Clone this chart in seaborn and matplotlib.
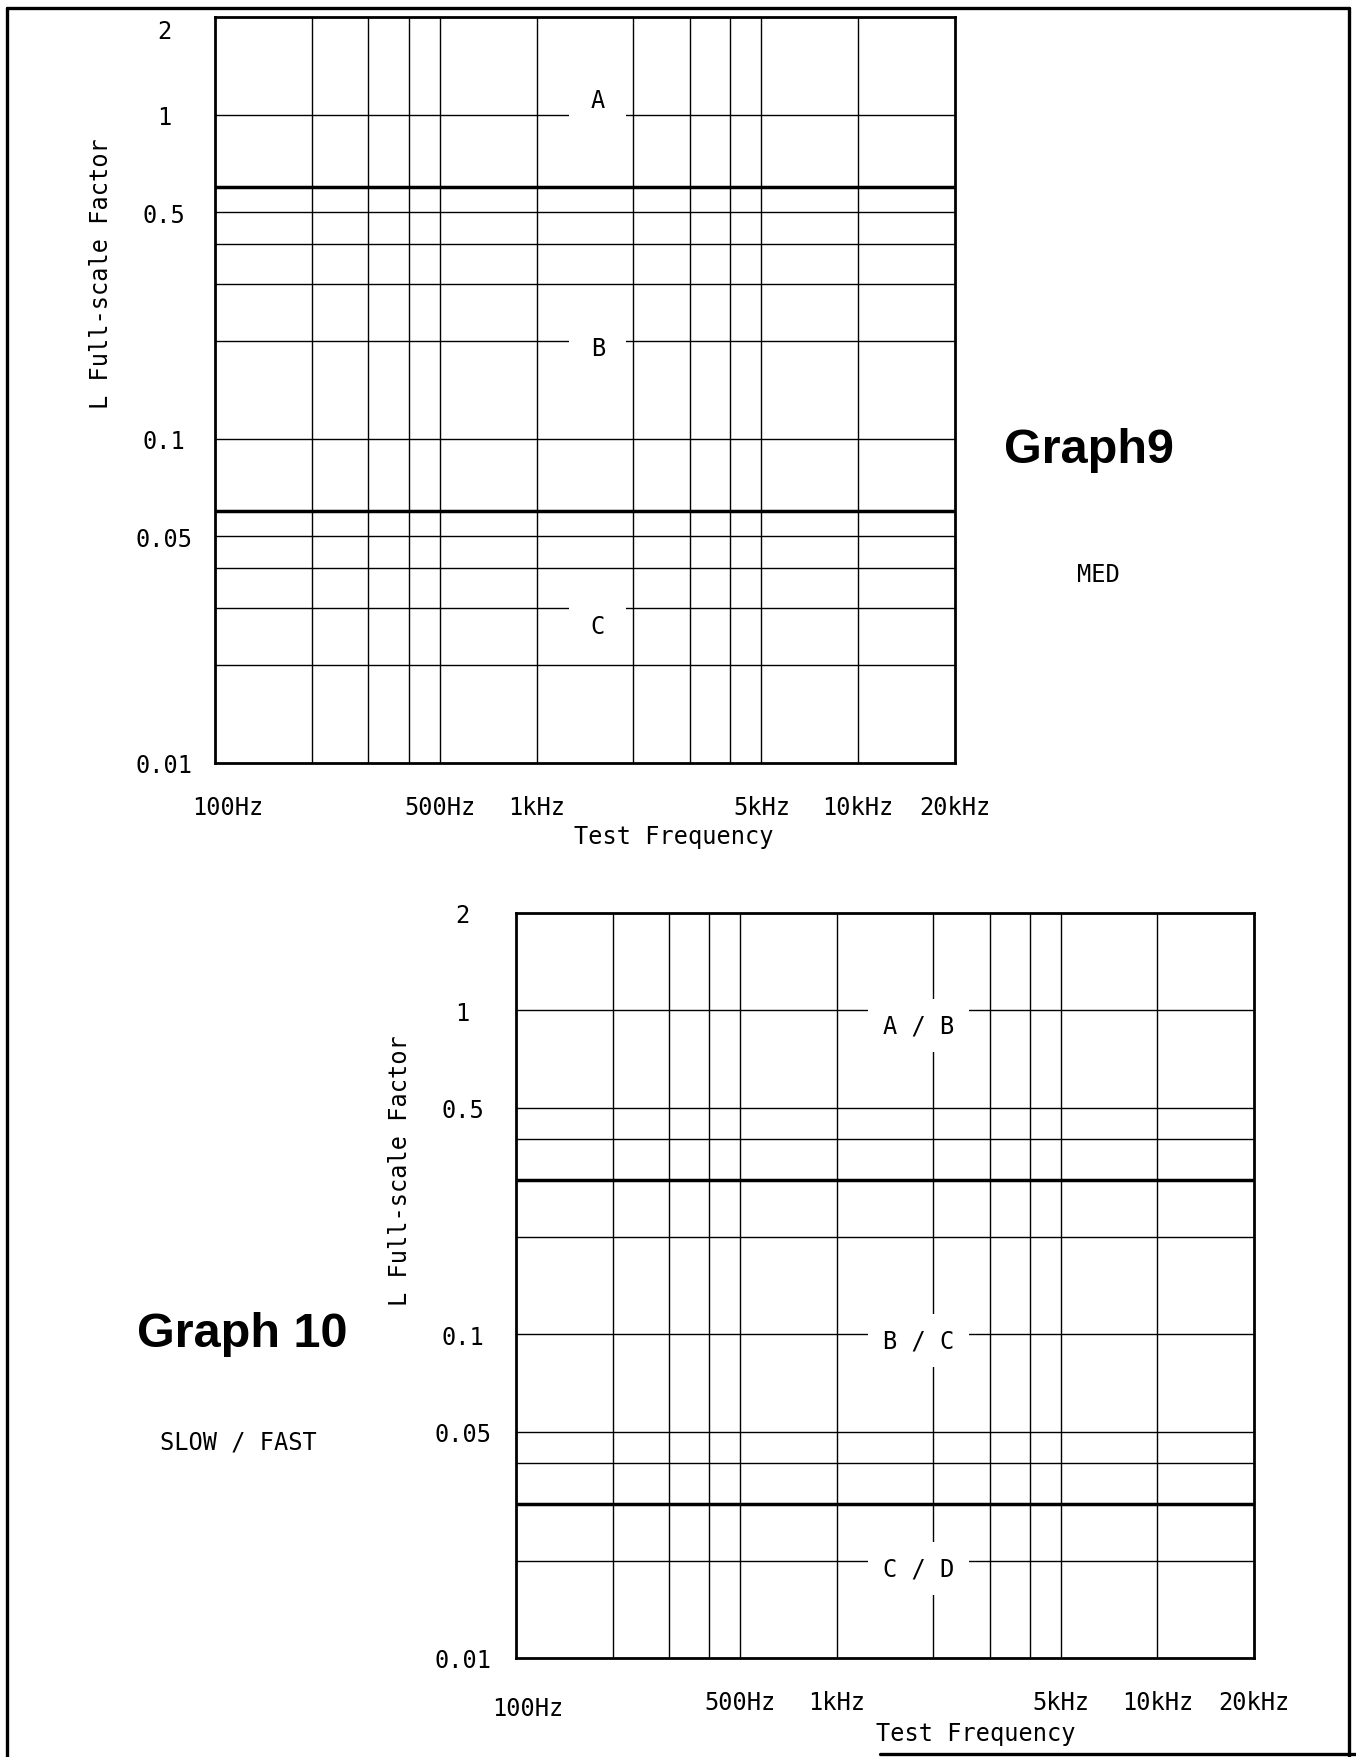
import matplotlib
matplotlib.use("Agg")
import matplotlib.pyplot as plt
import pandas as pd
import seaborn as sns
from matplotlib.lines import Line2D
from matplotlib.ticker import NullLocator
from matplotlib.transforms import ScaledTranslation

# ---- shared axes ----
freq_min, freq_max = 100, 20000
freq_ticks = [100, 500, 1000, 5000, 10000, 20000]
freq_tick_labels = ["100Hz", "500Hz", "1kHz", "5kHz", "10kHz", "20kHz"]
freq_grid = [200, 300, 400, 500, 1000, 2000, 3000, 4000, 5000, 10000]

factor_min, factor_max = 0.01, 2
factor_ticks = [2, 1, 0.5, 0.1, 0.05, 0.01]
factor_tick_labels = ["2", "1", "0.5", "0.1", "0.05", "0.01"]

# ---- Graph 9 (MED) ----
g9_levels = [1, 0.5, 0.4, 0.3, 0.2, 0.1, 0.05, 0.04, 0.03, 0.02]
g9_bounds = [0.6, 0.06]
g9_ranges = ["A", "B", "C"]
g9_range_levels = [1, 0.2, 0.03]

# ---- Graph 10 (SLOW / FAST) ----
g10_levels = [1, 0.5, 0.4, 0.2, 0.1, 0.05, 0.04, 0.02]
g10_bounds = [0.3, 0.03]
g10_ranges = ["A / B", "B / C", "C / D"]
g10_range_levels = [1, 0.1, 0.02]

sns.set_theme(style="white")
plt.rcParams["font.family"] = ["DejaVu Sans Mono", "DejaVu Sans"]
plt.rcParams["text.color"] = "black"
plt.rcParams["axes.labelcolor"] = "black"
plt.rcParams["xtick.color"] = "black"
plt.rcParams["ytick.color"] = "black"

W, H, DPI = 1356, 1758, 100
MONO = 17
THIN, THICK, FRAME = 1.0, 2.5, 2.0

fig = plt.figure(figsize=(W / DPI, H / DPI), dpi=DPI)
fig.patch.set_facecolor("white")


def px_rect(left, top, right, bottom):
    return [left / W, 1 - bottom / H, (right - left) / W, (bottom - top) / H]


def level_frame(levels):
    rows = []
    for lv in levels:
        for f in (freq_min, freq_max):
            rows.append({"freq": f, "factor": lv, "level": lv})
    return pd.DataFrame(rows)


def shift(label, dx_px, dy_px):
    label.set_transform(label.get_transform()
                        + ScaledTranslation(dx_px / DPI, dy_px / DPI, fig.dpi_scale_trans))


def draw_chart(rect, levels, bounds, ranges, range_levels, label_freq,
               label_dy, box_pad, ytick_pad, ylabel_xy, xlabel_xy,
               first_xtick_shift, top_ytick_shift):
    ax = fig.add_axes(px_rect(*rect))
    ax.set_xscale("log")
    ax.set_yscale("log")
    ax.set_facecolor("white")

    for f in freq_grid:
        ax.axvline(f, color="black", lw=THIN, zorder=1)
    sns.lineplot(data=level_frame(levels), x="freq", y="factor", units="level",
                 estimator=None, color="black", lw=THIN, ax=ax, zorder=1)
    sns.lineplot(data=level_frame(bounds), x="freq", y="factor", units="level",
                 estimator=None, color="black", lw=THICK, ax=ax, zorder=2)

    ax.set_xlim(freq_min, freq_max)
    ax.set_ylim(factor_min, factor_max)

    ax.set_xticks(freq_ticks, freq_tick_labels)
    ax.set_yticks(factor_ticks, factor_tick_labels)
    ax.xaxis.set_minor_locator(NullLocator())
    ax.yaxis.set_minor_locator(NullLocator())
    ax.tick_params(length=0, labelsize=MONO)
    ax.tick_params(axis="y", pad=ytick_pad)
    ax.tick_params(axis="x", pad=31.5)
    for lbl in ax.get_yticklabels():
        lbl.set_ha("center")
    for lbl in ax.get_xticklabels():
        lbl.set_va("center")
    shift(ax.get_xticklabels()[0], *first_xtick_shift)
    shift(ax.get_yticklabels()[0], *top_ytick_shift)

    ax.set_xlabel("Test Frequency", fontsize=MONO, va="center")
    ax.set_ylabel("L Full-scale Factor", fontsize=MONO, va="center")
    ax.xaxis.set_label_coords(*xlabel_xy)
    ax.yaxis.set_label_coords(*ylabel_xy)

    for spine in ax.spines.values():
        spine.set_visible(True)
        spine.set_color("black")
        spine.set_linewidth(FRAME)

    for txt, lv, dy in zip(ranges, range_levels, label_dy):
        ax.annotate(txt, xy=(label_freq, lv), xytext=(0, dy),
                    textcoords="offset points", ha="center", va="center",
                    fontsize=MONO, zorder=4,
                    bbox=dict(boxstyle=f"square,pad={box_pad}", fc="white", ec="none"))
    return ax


# Graph 9
draw_chart(rect=(215, 18, 955, 764),
           levels=g9_levels, bounds=g9_bounds,
           ranges=g9_ranges, range_levels=g9_range_levels,
           label_freq=1550, label_dy=[10.8, -5.0, -13.0], box_pad=0.9,
           ytick_pad=36.7, ylabel_xy=(-0.154, 0.658), xlabel_xy=(0.620, -0.098),
           first_xtick_shift=(13, 0), top_ytick_shift=(0, -12))

# Graph 10
draw_chart(rect=(516, 914, 1254, 1659),
           levels=g10_levels, bounds=g10_bounds,
           ranges=g10_ranges, range_levels=g10_range_levels,
           label_freq=1800, label_dy=[-10.8, -4.3, -5.8], box_pad=0.62,
           ytick_pad=38.5, ylabel_xy=(-0.157, 0.656), xlabel_xy=(0.623, -0.101),
           first_xtick_shift=(12, -6), top_ytick_shift=(0, 0))

# Titles and mode notes
fig.text(1089 / W, 1 - 463 / H, "Graph9", ha="center", va="baseline",
         fontsize=35, fontweight="bold", family="Liberation Sans")
fig.text(1098 / W, 1 - 582 / H, "MED", ha="center", va="baseline", fontsize=MONO)
fig.text(242 / W, 1 - 1347 / H, "Graph 10", ha="center", va="baseline",
         fontsize=35, fontweight="bold", family="Liberation Sans")
fig.text(238 / W, 1 - 1450 / H, "SLOW / FAST", ha="center", va="baseline", fontsize=MONO)

# Page frame
def frame_line(x0, y0, x1, y1, lw=2.4):
    fig.add_artist(Line2D([x0 / W, x1 / W], [1 - y0 / H, 1 - y1 / H],
                          transform=fig.transFigure, color="black", lw=lw))

frame_line(7, 9, 7, H)
frame_line(7, 9, 1349, 9)
frame_line(1349, 9, 1349, H)
frame_line(880, 1755, W, 1755)

fig.savefig("out.png", dpi=DPI, facecolor="white")
